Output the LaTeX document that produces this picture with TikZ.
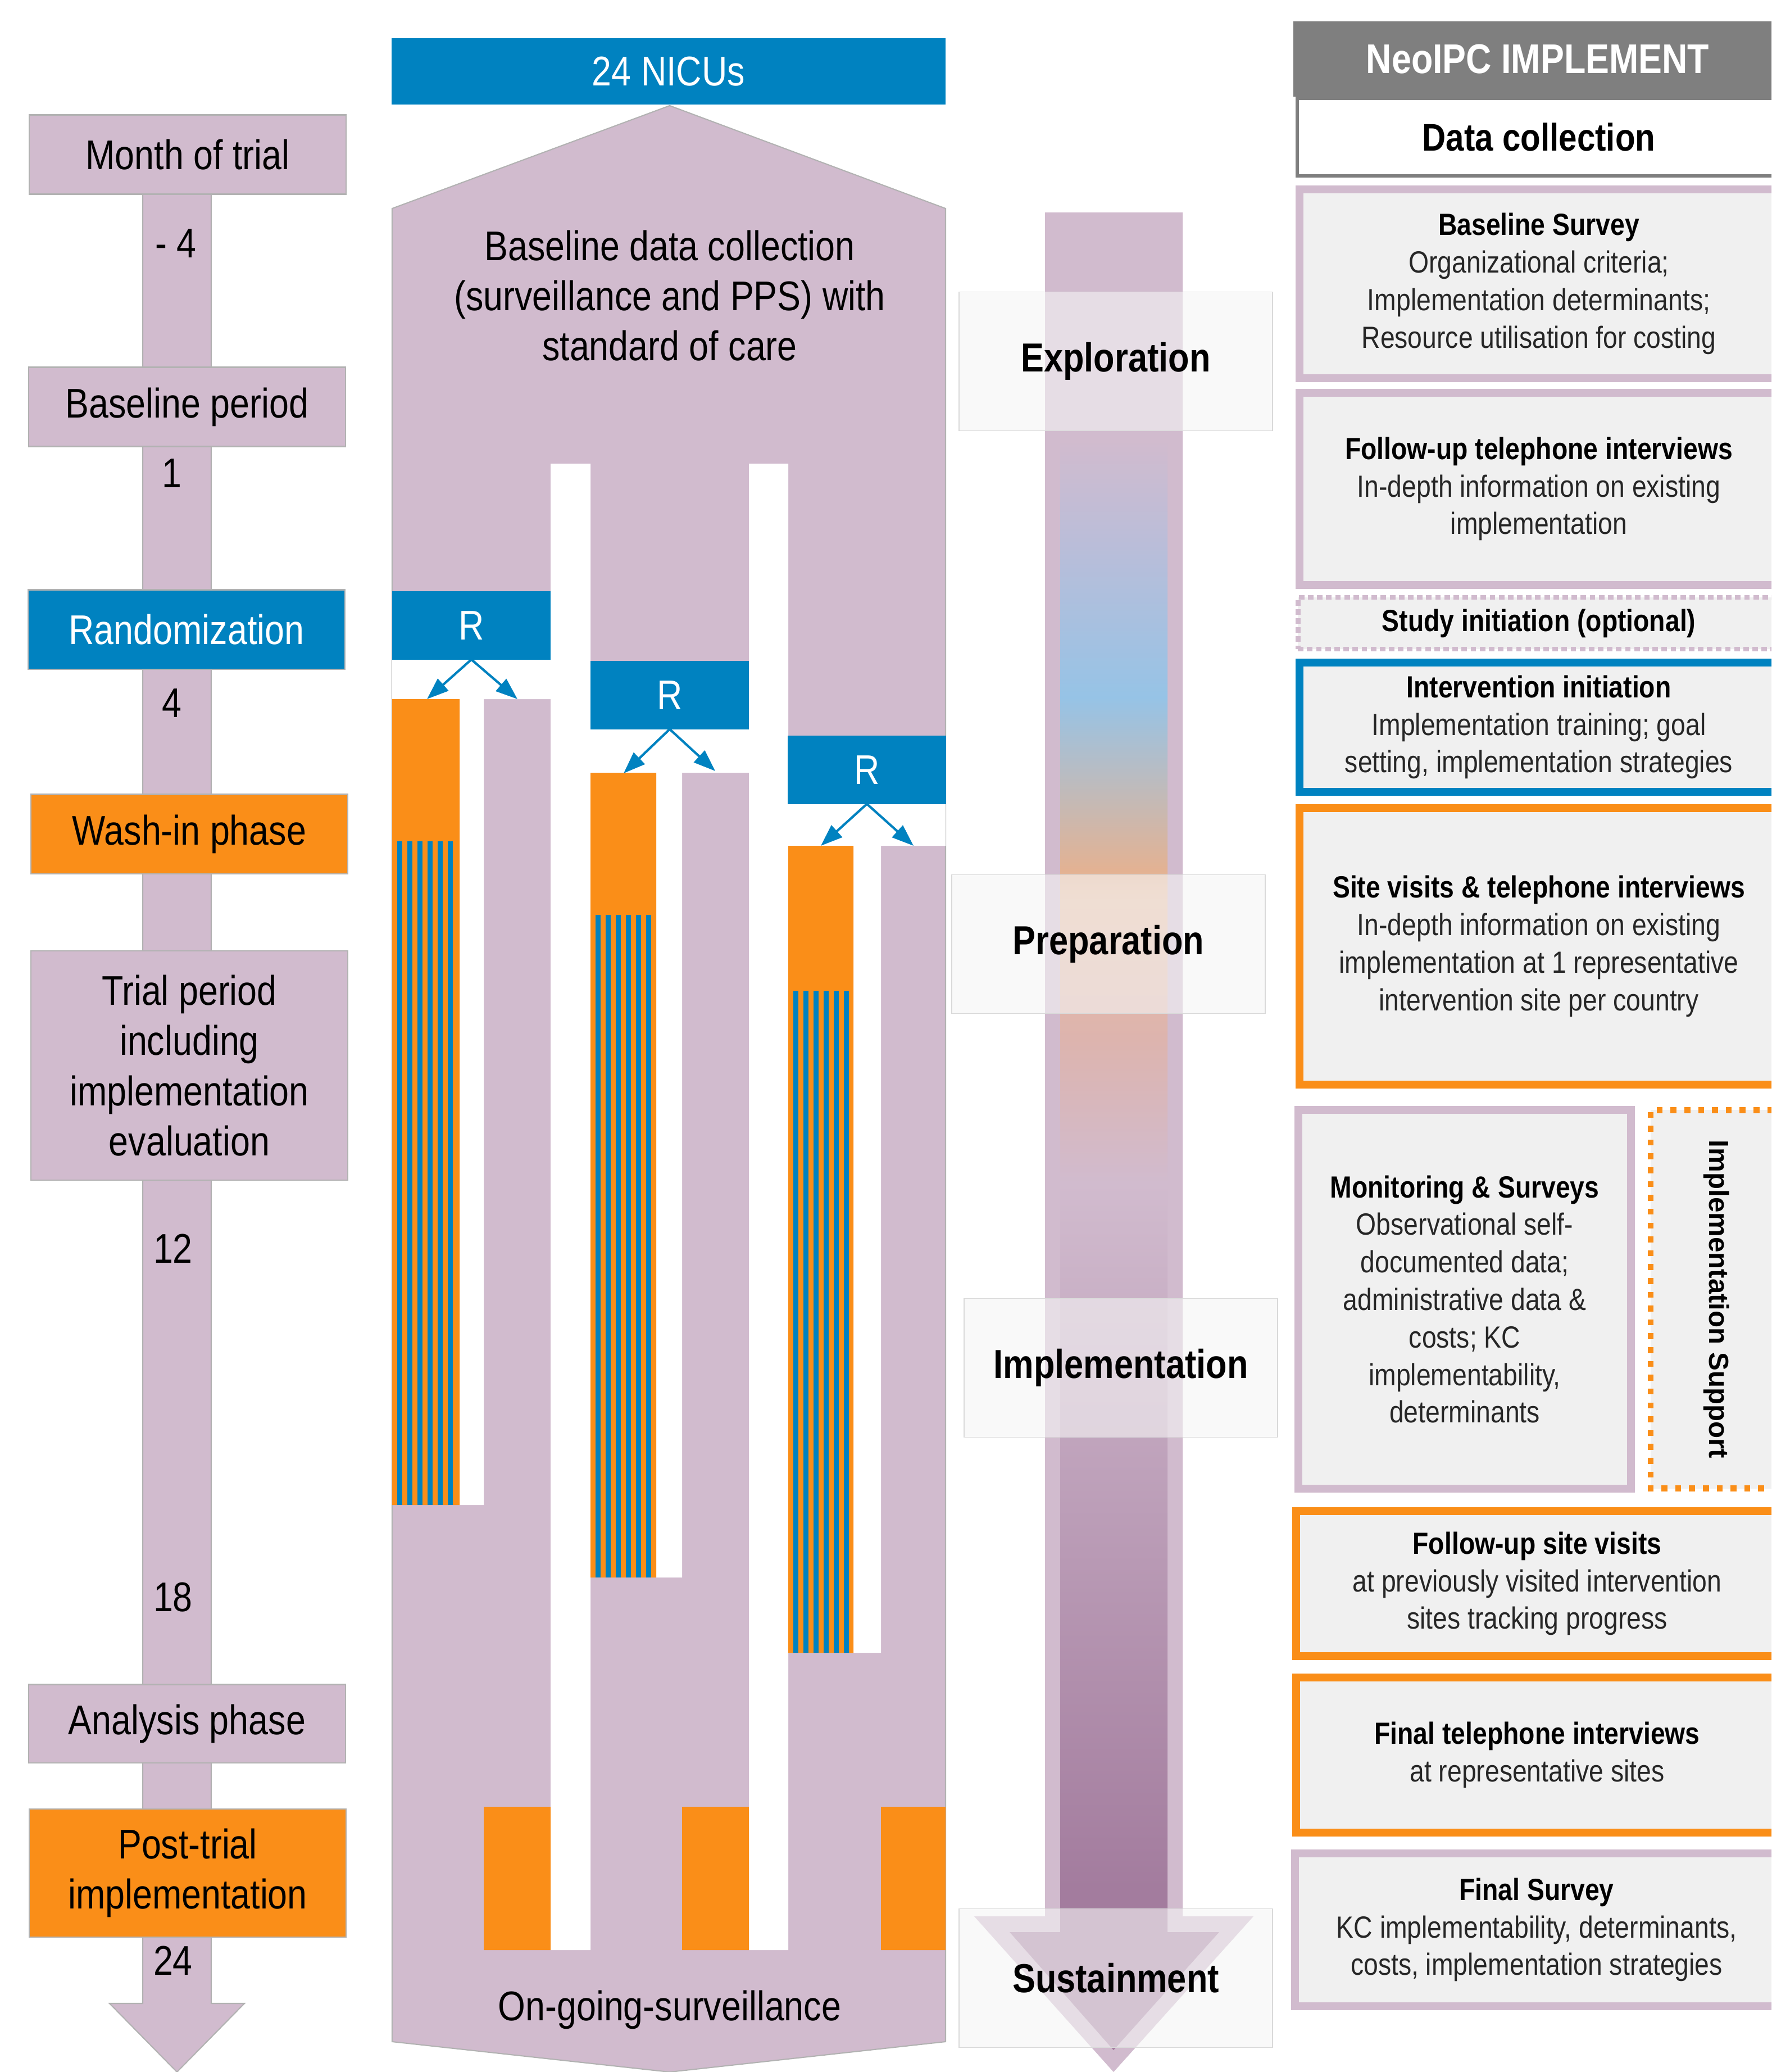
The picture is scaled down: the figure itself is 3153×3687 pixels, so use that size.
\documentclass[tikz,border=0pt]{standalone}
\usepackage{fontspec}
\setmainfont[FakeStretch=0.85]{Liberation Sans}
\newfontfamily\plainsans{Liberation Sans}
\usetikzlibrary{arrows.meta}

\definecolor{lilac}{RGB}{209,187,206}
\definecolor{nblue}{RGB}{0,130,192}
\definecolor{norange}{RGB}{250,142,24}
\definecolor{hgrey}{RGB}{127,127,127}
\definecolor{boxgrey}{RGB}{240,240,240}
\definecolor{gmauve}{RGB}{163,124,158}
\definecolor{gsalmon}{RGB}{221,180,174}
\definecolor{gpeach}{RGB}{232,188,160}
\definecolor{gtan}{RGB}{227,178,147}
\definecolor{ggrey}{RGB}{185,188,194}
\definecolor{gsky}{RGB}{150,195,230}
\definecolor{gpale}{RGB}{188,189,216}

% colour run of the phase arrow, bottom to top
\pgfdeclareverticalshading{phaserun}{100bp}{color(0bp)=(gmauve); color(25bp)=(gmauve);
  color(29.4bp)=(gmauve); color(48.6bp)=(lilac); color(52.5bp)=(gsalmon);
  color(56.3bp)=(gpeach); color(57.1bp)=(gtan); color(59.7bp)=(ggrey);
  color(61.8bp)=(gsky); color(66.2bp)=(gpale); color(68.8bp)=(lilac);
  color(75bp)=(lilac); color(100bp)=(lilac)}

\begin{document}
\begin{tikzpicture}[x=0.01cm, y=-0.01cm,
    lbox/.style={fill=lilac, draw=black!30, line width=0.6pt, minimum width=5.64cm,
      minimum height=1.41cm, inner sep=0pt, align=center,
      font=\fontsize{21}{25.4}\selectfont},
    month/.style={font=\fontsize{21}{25.4}\selectfont},
    rbox/.style={fill=nblue, text=white, minimum width=2.82cm, minimum height=1.21cm,
      inner sep=0pt, outer sep=0pt, font=\fontsize{21}{25.4}\selectfont},
    rarr/.style={draw=nblue, line width=1.2pt, -{Triangle[length=11pt,width=8pt]}},
    phase/.style={fill=black!4, fill opacity=0.6, text opacity=1, draw=black!15,
      minimum width=5.58cm, minimum height=2.47cm, inner sep=0pt,
      font=\bfseries\fontsize{20.5}{24}\selectfont},
    databox/.style={fill=boxgrey, line width=4pt, inner sep=0pt, align=center,
      minimum width=8.52cm, text=black!85, font=\fontsize{15.5}{19}\selectfont},
    dtitle/.style={font=\bfseries}]

\useasboundingbox (0,0) rectangle (3153,3687);
\clip (0,0) rectangle (3153,3687);

% month axis
\path[fill=lilac, draw=black!30, line width=0.6pt] (254,280) -- (254,3565) -- (195,3565)
  -- (315,3687) -- (435,3565) -- (376,3565) -- (376,280) -- cycle;
\path
(334,275) node[lbox](month) {Month of trial}
(333,724) node[lbox](basep) {Baseline period}
(332,1120) node[lbox, fill=nblue, text=white](rand) {Randomization}
(337,1484) node[lbox, fill=norange](washin) {Wash-in phase}
(337,1896) node[lbox, minimum height=4.07cm](trial) {Trial period\\including\\implementation\\evaluation}
(333,3067) node[lbox, minimum height=1.39cm](analysis) {Analysis phase}
(334,3333) node[lbox, fill=norange, minimum height=2.28cm](posttrial) {Post-trial\\implementation};

\path
(313,433) node[month](mneg) {- 4}
(306,842) node[month](mone) {1}
(306,1251) node[month](mfour) {4}
(308,2222) node[month](mtwelve) {12}
(308,2842) node[month](meighteen) {18}
(308,3489) node[month](mtwentyfour) {24};

% the 24 NICUs
\path[fill=lilac, draw=black!30, line width=0.6pt] (698,371) -- (1192,188) -- (1683,371)
  -- (1683,3633) -- (1192,3687) -- (698,3633) -- cycle;
\fill[white] (980,825) rectangle (1051,3470) (1333,825) rectangle (1403,3470)
  (698,1173) rectangle (980,1244) (818,1244) rectangle (861,2678)
  (1051,1297) rectangle (1333,1375) (1168,1375) rectangle (1214,2807)
  (1403,1431) rectangle (1683,1505) (1519,1505) rectangle (1568,2941);
\fill[norange] (698,1244) rectangle (818,2678) (1051,1375) rectangle (1168,2807)
  (1403,1505) rectangle (1519,2941);
\foreach \xa/\ya/\yb in {698/1497/2678, 1051/1628/2807, 1403/1763/2941}
  \foreach \k in {0,...,5}
    \fill[nblue] ({\xa+9+18*\k},\ya) rectangle ({\xa+18+18*\k},\yb);
\fill[norange] (861,3215) rectangle (980,3470) (1214,3215) rectangle (1333,3470)
  (1568,3215) rectangle (1683,3470);

\path
(1190,127) node[rbox, minimum width=9.85cm, minimum height=1.18cm](nicus) {24 NICUs}
(839,1113) node[rbox](r1) {R}
(1192,1237) node[rbox](r2) {R}
(1543,1370) node[rbox](r3) {R}
(1192,526) node[month, align=center](base) {Baseline data collection\\(surveillance and PPS) with\\standard of care}
(1192,3576) node[month](surv) {On-going-surveillance};

\coordinate (a1) at (760,1244);
\coordinate (b1) at (921,1244);
\coordinate (a2) at (1110,1376);
\coordinate (b2) at (1273,1372);
\coordinate (a3) at (1461,1505);
\coordinate (b3) at (1626,1505);
\draw[rarr] (r1.south) -- (a1);
\draw[rarr] (r1.south) -- (b1);
\draw[rarr] (r2.south) -- (a2);
\draw[rarr] (r2.south) -- (b2);
\draw[rarr] (r3.south) -- (a3);
\draw[rarr] (r3.south) -- (b3);

% phases
\fill[lilac] (1860,378) -- (1860,3410) -- (1734,3410) -- (1982,3687) -- (2231,3410)
  -- (2105,3410) -- (2105,378) -- cycle;
\shade[shading=phaserun] (1887,378) -- (1887,3438) -- (1797,3438) -- (1982,3648)
  -- (2170,3438) -- (2078,3438) -- (2078,378) -- cycle;
\path
(1986,643) node[phase](explor) {Exploration}
(1973,1680) node[phase](prep) {Preparation}
(1995,2434) node[phase](impl) {Implementation}
(1986,3520) node[phase](sust) {Sustainment};

% data collection column
\path
(2737,105) node[fill=hgrey, text=white, minimum width=8.70cm, minimum height=1.34cm,
  font=\bfseries\fontsize{21}{25}\selectfont](head) {NeoIPC IMPLEMENT}
(2739,244) node[fill=white, draw=hgrey, line width=1.7pt, minimum width=8.60cm,
  minimum height=1.37cm, font=\bfseries\fontsize{19.5}{24}\selectfont](datacol) {Data collection}
(2739,505) node[databox, draw=lilac, minimum height=3.35cm](bsurvey)
  {{\bfseries\color{black}Baseline Survey}\\Organizational criteria;\\Implementation determinants;\\Resource utilisation for costing}
(2739,870) node[databox, draw=lilac, minimum height=3.41cm](fuphone)
  {{\bfseries\color{black}Follow-up telephone interviews}\\In-depth information on existing\\implementation}
(2739,1109) node[databox, draw=lilac, line width=2.5pt, dash pattern=on 2.8pt off 1.8pt,
  minimum width=8.57cm, minimum height=0.92cm](studyinit)
  {{\bfseries\color{black}Study initiation (optional)}}
(2739,1294) node[databox, draw=nblue, minimum height=2.29cm](intinit)
  {{\bfseries\color{black}Intervention initiation}\\Implementation training; goal\\setting, implementation strategies}
(2739,1684) node[databox, draw=norange, minimum height=4.91cm](sitevis)
  {{\bfseries\color{black}Site visits \& telephone interviews}\\In-depth information on existing\\implementation at 1 representative\\intervention site per country}
(2607,2312) node[databox, draw=lilac, minimum width=5.92cm, minimum height=6.73cm](monitor)
  {{\bfseries\color{black}Monitoring \& Surveys}\\Observational self-\\documented data;\\administrative data \&\\costs; KC\\implementability,\\determinants}
(3055,2312) node[databox, draw=norange, line width=3pt, dash pattern=on 3pt off 4pt,
  rotate=-90, minimum width=6.73cm, minimum height=2.34cm, text=black,
  font=\plainsans\bfseries\fontsize{14}{17}\selectfont](impsup) {Implementation Support}
(2736,2818) node[databox, draw=norange, minimum width=8.57cm, minimum height=2.58cm](fusite)
  {{\bfseries\color{black}Follow-up site visits}\\at previously visited intervention\\sites tracking progress}
(2736,3123) node[databox, draw=norange, minimum width=8.57cm, minimum height=2.76cm](finphone)
  {{\bfseries\color{black}Final telephone interviews}\\at representative sites}
(2735,3434) node[databox, draw=lilac, minimum width=8.60cm, minimum height=2.71cm](fsurvey)
  {{\bfseries\color{black}Final Survey}\\KC implementability, determinants,\\costs, implementation strategies};
\end{tikzpicture}
\end{document}
